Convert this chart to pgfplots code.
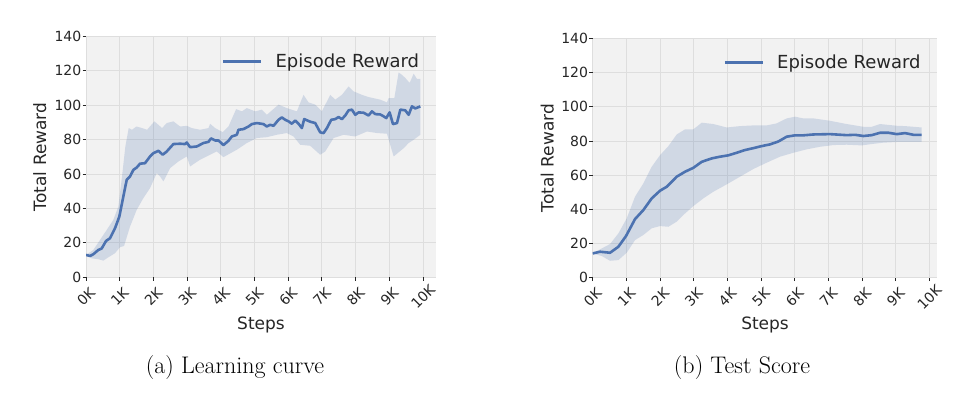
\documentclass[border=0pt]{standalone}
\usepackage{fontspec}
\usepackage{pgfplots}
\pgfplotsset{compat=1.18}
\newfontfamily\dejavu{DejaVu Sans}
\definecolor{sbblue}{HTML}{4C72B0}
\definecolor{bgray}{HTML}{F2F2F2}
\definecolor{ggray}{HTML}{DEDEDE}
\definecolor{tcol}{HTML}{262626}

\pgfplotsset{
  rlstyle/.style={
    scale only axis,
    xmin=0, ymin=0, ymax=140,
    xtick={0,1000,...,10000},
    xticklabels={0K,1K,2K,3K,4K,5K,6K,7K,8K,9K,10K},
    scaled x ticks=false,
    ytick={0,20,...,140},
    axis background/.style={fill=bgray},
    axis line style={draw=none},
    grid=major,
    grid style={ggray, line width=0.9pt},
    tick align=outside,
    xtick pos=bottom, ytick pos=left,
    major tick length=3.5pt,
    tick style={tcol, line width=0.8pt},
    /pgf/number format/assume math mode=true,
    ticklabel style={font=\dejavu\fontsize{14}{16}\selectfont, text=tcol},
    yticklabel style={inner sep=1pt},
    xticklabel style={anchor=center, yshift=-16pt, rotate=45},
    every axis x label/.style={at={(axis description cs:0.5,-0.217)}, anchor=base,
      font=\dejavu\fontsize{17}{20}\selectfont, text=tcol},
    every axis y label/.style={at={(axis description cs:-0.132,0.5)}, rotate=90, anchor=center,
      font=\dejavu\fontsize{17}{20}\selectfont, text=tcol},
    xlabel={Steps},
    ylabel={Total Reward},
    legend style={draw=none, fill=none, anchor=west, inner sep=0pt,
      font=\dejavu\fontsize{18}{21}\selectfont, text=tcol,
      column sep=13pt, nodes={inner sep=0pt}},
    legend image code/.code={\draw[#1] (0pt,0pt) -- (38pt,0pt);},
  },
  band/.style={fill=sbblue, fill opacity=0.2, draw=none, forget plot},
  meanl/.style={sbblue, line width=2.6pt, line join=round},
}

\begin{document}
\begin{tikzpicture}
\path (0pt,0pt) rectangle (968pt,-402pt);

% (a) learning curve: band = upper edge, then lower edge backwards
\begin{axis}[rlstyle, at={(86pt,-277.3pt)}, anchor=south west,
  width=350pt, height=241pt, xmax=10386,
  legend style={at={(axis description cs:0.388,0.895)}}]
\addplot[band] coordinates {
(0,13) (218,15.9) (416,21.7) (614,27.5) (812,33.4) (960,41.1) (1069,58.6) (1168,76)
(1267,86.7) (1366,85.7) (1495,87.6) (1663,86.7) (1812,85.7) (2030,90.6) (2257,86.7)
(2396,89.6) (2594,90.6) (2792,87.6) (2990,88) (3139,86.7) (3386,85.7) (3634,86.7)
(3683,89.2) (3832,86.7) (4059,84.3) (4228,87.6) (4455,97.7) (4624,96.4) (4772,98.3)
(5020,96.4) (5218,97.4) (5366,94.4) (5713,100.3) (5960,98.3) (6257,96.4) (6455,106)
(6604,101.6) (6802,100.3) (7000,96.4) (7248,106) (7396,103.2) (7594,106) (7792,110.9)
(7941,108) (8188,106) (8386,104.7) (8733,103.2) (8931,101.6) (8980,104.1) (9149,104.1)
(9277,119) (9376,117.6) (9475,115.8) (9604,112.9) (9723,118.3) (9822,115.2) (9921,115.2)
(9921,82.8) (9723,79.9) (9574,78) (9426,75) (9129,70.2) (8931,83.4) (8634,83.8)
(8337,84.7) (7990,81.8) (7644,82.8) (7347,80.9) (7099,73.1) (6950,71.2) (6653,76.4)
(6356,77) (6158,81.8) (5960,83.8) (5663,82.8) (5366,81.4) (5069,80.9) (4772,78)
(4475,74.1) (4079,69.8) (3881,73.1) (3683,71.2) (3386,68.3) (3089,64.4) (2990,70.2)
(2743,67.3) (2495,63.4) (2297,55.7) (2198,58.6) (2099,60.5) (1901,51.8) (1703,46)
(1505,39.2) (1307,29.5) (1129,18.2) (1010,17.5) (861,14) (663,11.6) (515,9.7)
(366,10.5) (168,11) (0,13)
} -- cycle;
\addplot[meanl] coordinates {
(0,13) (119,12.4) (218,13.4) (366,15.9) (465,16.7) (594,21.1) (713,22.7) (861,28.5)
(990,35.3) (1109,47) (1208,56.6) (1307,58.6) (1406,62.4) (1505,63.8) (1604,66)
(1752,66.3) (1901,70.2) (2000,72.1) (2149,73.5) (2277,71.2) (2396,73.1) (2594,77.4)
(2792,77.6) (2941,77.4) (2990,78.3) (3089,75.6) (3287,76) (3485,78) (3634,78.7)
(3713,80.7) (3832,79.5) (3931,79.5) (4079,76.8) (4228,79.3) (4327,81.8) (4475,82.8)
(4525,85.7) (4673,86.1) (4822,87.6) (4921,89) (5069,89.6) (5267,89) (5366,87.6)
(5465,88.6) (5564,88) (5713,91.5) (5812,92.9) (5911,91.5) (6010,90.6) (6109,89.2)
(6208,91.1) (6307,89.2) (6406,86.7) (6475,91.9) (6653,90.4) (6802,89.6) (6950,84.2)
(7050,83.8) (7149,86.7) (7277,91.5) (7396,91.9) (7495,93.1) (7594,91.9) (7693,94)
(7792,97) (7891,97.4) (7990,94.4) (8089,95.8) (8238,95.6) (8386,94) (8485,96.4)
(8584,94.8) (8733,94.6) (8832,93.5) (8911,92.5) (9010,95.8) (9109,89) (9228,89.6)
(9327,97.4) (9475,97) (9574,94.4) (9673,99.3) (9772,98.1) (9921,99.3)
};
\addlegendentry{Episode Reward}
\end{axis}

% (b) test score
\begin{axis}[rlstyle, at={(592.7pt,-277.7pt)}, anchor=south west,
  width=344.7pt, height=239.3pt, xmax=10238,
  legend style={at={(axis description cs:0.379,0.900)}}]
\addplot[band] coordinates {
(0,14.2) (218,16.6) (515,19.7) (762,25.9) (1010,34.7) (1257,47.4) (1505,55.2)
(1752,64.9) (2000,71.7) (2248,77) (2495,83.8) (2743,86.8) (2990,86.8) (3238,90.7)
(3584,89.9) (3980,87.9) (4376,88.7) (4772,89.1) (5168,89.1) (5465,90.3) (5762,93.2)
(6010,94.2) (6257,93.2) (6554,93.2) (7050,91.8) (7545,89.9) (8040,88.3) (8287,88.3)
(8535,89.9) (9030,88.9) (9277,88.7) (9772,87.9)
(9772,79.4) (9327,79.4) (9030,79.4) (8634,79) (8287,78.2) (7990,77.4) (7545,77.8)
(7149,77.6) (6752,76.6) (6356,75.1) (5960,73.1) (5564,70.8) (5168,67.3) (4772,63.6)
(4376,59.1) (3980,54.6) (3584,50.3) (3287,46.4) (2990,41.9) (2743,37.6) (2495,32.8)
(2248,29.8) (2000,30.2) (1752,28.9) (1505,25) (1257,22) (1010,14.6) (762,10.3)
(515,9.9) (267,12.7) (0,14.2)
} -- cycle;
\addplot[meanl] coordinates {
(0,14.2) (218,15.2) (515,14.6) (762,18.1) (990,24.4) (1257,34.3) (1505,39.6)
(1752,46.4) (2000,50.9) (2198,53.2) (2495,59.1) (2743,62) (2990,64.3) (3238,67.8)
(3535,69.8) (3782,70.8) (4030,71.6) (4277,73.1) (4525,74.7) (4772,75.8) (5020,77)
(5267,78) (5515,79.7) (5762,82.5) (6010,83.3) (6257,83.3) (6554,83.8) (7050,84)
(7545,83.4) (7792,83.6) (8040,82.9) (8287,83.4) (8535,84.8) (8782,84.8) (9030,84)
(9277,84.6) (9525,83.6) (9772,83.6)
};
\addlegendentry{Episode Reward}
\end{axis}

\node[anchor=base, font=\fontsize{24}{28}\selectfont] at (235pt,-373pt) {(a) Learning curve};
\node[anchor=base, font=\fontsize{24}{28}\selectfont] at (742pt,-373pt) {(b) Test Score};
\end{tikzpicture}
\end{document}
